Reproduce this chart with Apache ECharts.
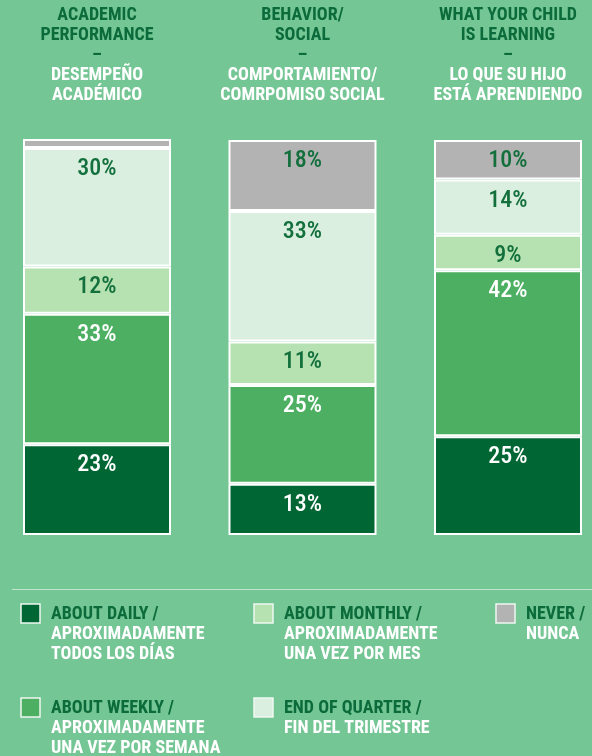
<!DOCTYPE html>
<html>
<head>
<meta charset="utf-8">
<script src="https://cdn.jsdelivr.net/npm/echarts@6/dist/echarts.min.js"></script>
<style>
  html, body { margin: 0; padding: 0; background: #75c695; }
  #main { width: 592px; height: 756px; }
</style>
</head>
<body>
<div id="main"></div>
<script>
// categories (english / spanish title lines)
var titleEn = [['ACADEMIC', 'PERFORMANCE'], ['BEHAVIOR/', 'SOCIAL'], ['WHAT YOUR CHILD', 'IS LEARNING']];
var titleEs = [['DESEMPEÑO', 'ACADÉMICO'], ['COMPORTAMIENTO/', 'COMRPOMISO SOCIAL'], ['LO QUE SU HIJO', 'ESTÁ APRENDIENDO']];

// percentages, bottom to top of each bar
var daily = [23, 13, 25];
var weekly = [33, 25, 42];
var monthly = [12, 11, 9];
var endOfQuarter = [30, 33, 14];
var never = [3, 18, 10];

var legendEn = ['ABOUT DAILY /', 'ABOUT WEEKLY /', 'ABOUT MONTHLY /', 'END OF QUARTER /', 'NEVER /'];
var legendEs = [
    ['APROXIMADAMENTE', 'TODOS LOS DÍAS'],
    ['APROXIMADAMENTE', 'UNA VEZ POR SEMANA'],
    ['APROXIMADAMENTE', 'UNA VEZ POR MES'],
    ['FIN DEL TRIMESTRE'],
    ['NUNCA']
];

// no condensed family installed, so ask for the condensed stretch of Roboto
var FONT = 'Roboto';
var BOLD = 'bold condensed';
var DARK = '#0b6b3a';
var colors = ['#006633', '#4caf62', '#b5e2b0', '#daefe0', '#b3b3b3'];
var labelColors = ['#ffffff', '#ffffff', '#13703d', '#13703d', '#13703d'];
var seriesData = [daily, weekly, monthly, endOfQuarter, never];

var chart = echarts.init(document.getElementById('main'), null, { renderer: 'canvas' });

function makeSeries(i) {
    return {
        name: legendEn[i],
        type: 'bar',
        stack: 'all',
        barWidth: 148,
        data: seriesData[i],
        itemStyle: {
            color: colors[i],
            borderColor: '#ffffff',
            borderWidth: 2
        },
        label: {
            show: true,
            position: 'insideTop',
            distance: 9,
            color: labelColors[i],
            fontFamily: FONT,
            fontWeight: '500 condensed',
            fontSize: 24,
            formatter: function (p) {
                // tiny slice on the first bar has no label
                return p.value < 5 ? '' : p.value + '%';
            }
        }
    };
}

// legend drawn by hand (swatch + two-colour text)
var legendPos = [[21, 604], [21, 698], [254, 604], [254, 698], [496, 604]];
function makeLegend() {
    var els = [{
        type: 'line',
        shape: { x1: 12, y1: 589.5, x2: 592, y2: 589.5 },
        style: { stroke: 'rgba(255,255,255,0.55)', lineWidth: 1 }
    }];
    legendEn.forEach(function (name, i) {
        var x = legendPos[i][0], y = legendPos[i][1];
        els.push({
            type: 'rect',
            shape: { x: x, y: y, width: 19, height: 19 },
            style: { fill: colors[i], stroke: '#eef8f1', lineWidth: 1.5 }
        });
        var txt = '{en|' + name + '}';
        legendEs[i].forEach(function (line) {
            txt += '\n{es|' + line + '}';
        });
        els.push({
            type: 'text',
            x: x + 30,
            y: y,
            style: {
                text: txt,
                verticalAlign: 'top',
                rich: {
                    en: { fill: DARK, fontSize: 18, fontWeight: BOLD, fontFamily: FONT, lineHeight: 20 },
                    es: { fill: '#ffffff', fontSize: 18, fontWeight: BOLD, fontFamily: FONT, lineHeight: 20 }
                }
            }
        });
    });
    return els;
}

var option = {
    backgroundColor: '#75c695',
    animation: false,
    grid: { left: -5.75, width: 616.5, top: 140, bottom: 221, outerBoundsMode: 'none', containLabel: false },
    xAxis: {
        type: 'category',
        position: 'top',
        data: [0, 1, 2],
        axisLine: { show: false },
        axisTick: { show: false },
        axisLabel: {
            interval: 0,
            margin: 35,
            formatter: function (v, idx) {
                var t = titleEn[idx].map(function (s) { return '{en|' + s + '}'; });
                t.push('{en|–}');
                titleEs[idx].forEach(function (s) { t.push('{es|' + s + '}'); });
                return t.join('\n');
            },
            rich: {
                en: { color: DARK, fontSize: 18, fontWeight: BOLD, fontFamily: FONT, lineHeight: 20 },
                es: { color: '#ffffff', fontSize: 18, fontWeight: BOLD, fontFamily: FONT, lineHeight: 20 }
            }
        }
    },
    yAxis: {
        type: 'value',
        min: 0,
        max: 100,
        show: false,
        splitLine: { show: false }
    },
    graphic: makeLegend(),
    series: [0, 1, 2, 3, 4].map(makeSeries)
};

chart.setOption(option);
</script>
</body>
</html>
